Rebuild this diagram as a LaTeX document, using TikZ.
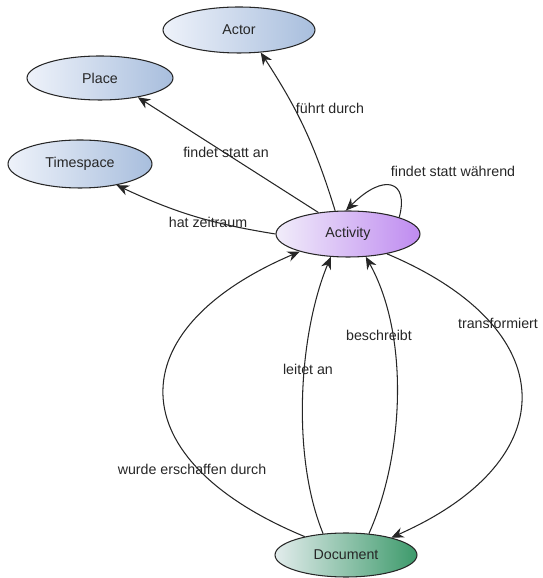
\documentclass[tikz,border=0pt]{standalone}
\usepackage{fontspec}
\setmainfont{Liberation Sans}
\usepackage{xcolor}
\usepackage{tikz}
\usetikzlibrary{shapes,arrows.meta,positioning}

\definecolor{entlight}{HTML}{EEF2FA}
\definecolor{entdark}{HTML}{A8BEDD}
\definecolor{actlight}{HTML}{F1EDFA}
\definecolor{actdark}{HTML}{BF8BF0}
\definecolor{doclight}{HTML}{E2ECEC}
\definecolor{docdark}{HTML}{3D9A6B}

\begin{document}
\begin{tikzpicture}[
    x=0.02cm, y=0.02cm,
    font=\fontsize{8.1}{9.5}\selectfont,
    entity/.style={ellipse, draw=black!85, line width=0.6pt, inner sep=0pt, text=black!85,
                   shading=axis, shading angle=90, left color=entlight, right color=entdark},
    activity/.style={entity, left color=actlight, right color=actdark},
    document/.style={entity, left color=doclight, right color=docdark},
    arrow/.style={-{Stealth[length=7pt,width=6pt]}, line width=0.6pt, black!85},
    lbl/.style={text=black!85, inner sep=0pt}
]
    \useasboundingbox (0,0) rectangle (543,578);

    \node[entity, minimum width=3.04cm, minimum height=0.92cm] (actor) at (239,548) {Actor};
    \node[entity, minimum width=2.92cm, minimum height=0.88cm] (place) at (100,500) {Place};
    \node[entity, minimum width=2.88cm, minimum height=0.96cm] (time) at (80,414) {Timespace};
    \node[activity, minimum width=2.88cm, minimum height=0.92cm] (act) at (348,344) {Activity};
    \node[document, minimum width=2.84cm, minimum height=0.88cm] (doc) at (346,23) {Document};

    % activity to the entities above
    \draw[arrow] (act.119) to[bend right=8] (actor.-46);
    \draw[arrow] (act.144) -- (place.-27);
    \draw[arrow] (act.180) to[bend left=8] (time.-30);
    \draw[arrow] (act.18) .. controls +(10,37) and +(38,38) .. (act.95);

    % document and activity
    \draw[arrow] (doc.156) .. controls +(-186,77) and +(-183,-78) .. (act.200);
    \draw[arrow] (doc.137) .. controls +(-32,78) and +(-32,-77) .. (act.233);
    \draw[arrow] (doc.43) .. controls +(35,78) and +(44,-79) .. (act.308);
    \draw[arrow] (act.333) .. controls +(176,-74) and +(176,78) .. (doc.21);

    \node[lbl] (lperform) at (330,470) {führt durch};
    \node[lbl] (lplace) at (226,426) {findet statt an};
    \node[lbl] (ltime) at (208,356) {hat zeitraum};
    \node[lbl] (lduring) at (453,407) {findet statt während};
    \node[lbl] (lcreated) at (192,109) {wurde erschaffen durch};
    \node[lbl] (linit) at (308,209) {leitet an};
    \node[lbl] (ldescr) at (379,243) {beschreibt};
    \node[lbl] (ltrans) at (498,255) {transformiert};
\end{tikzpicture}
\end{document}
